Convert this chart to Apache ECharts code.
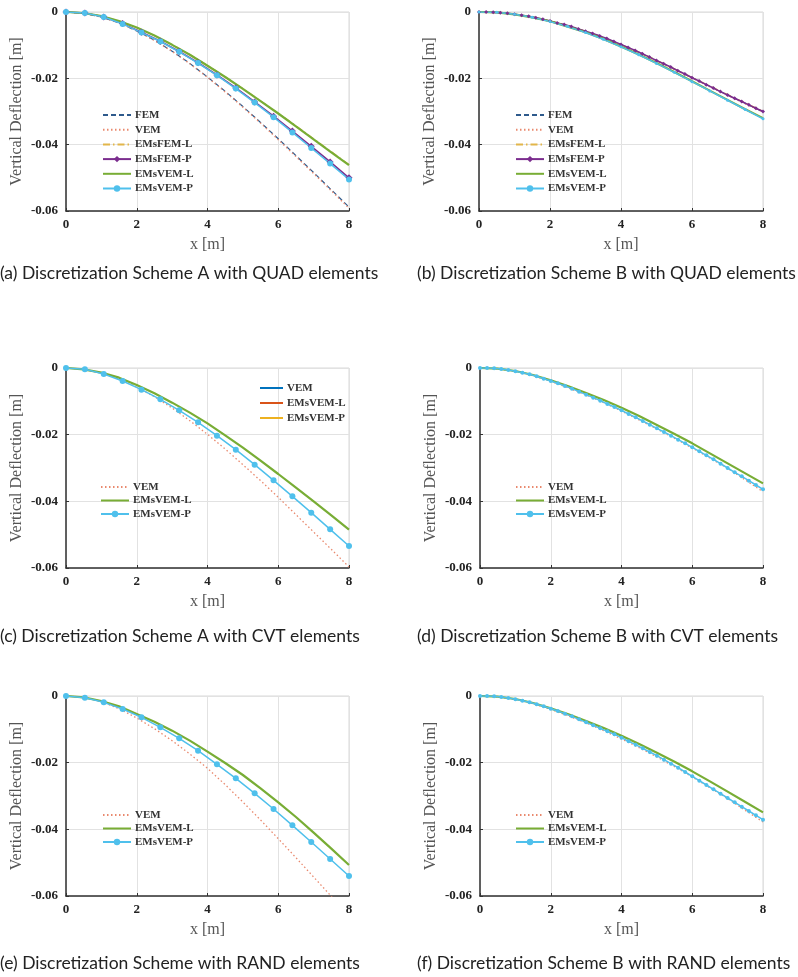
<!DOCTYPE html>
<html><head><meta charset="utf-8">
<script src="https://cdn.jsdelivr.net/npm/echarts@6/dist/echarts.min.js"></script>
<style>html,body{margin:0;padding:0;background:#fff}#c{width:798px;height:977px}</style>
</head><body><div id="c"></div>
<script>
// sample positions along the beam (m)
const xLine = [0,0.5,1,1.5,2,2.5,3,3.5,4,4.5,5,5.5,6,6.5,7,7.5,8];
const xMark = [0,0.533,1.067,1.6,2.133,2.667,3.2,3.733,4.267,4.8,5.333,5.867,6.4,6.933,7.467,8];
const xDense = [0,0.2,0.4,0.6,0.8,1,1.2,1.4,1.6,1.8,2,2.2,2.4,2.6,2.8,3,3.2,3.4,3.6,3.8,4,4.2,4.4,4.6,4.8,5,5.2,5.4,5.6,5.8,6,6.2,6.4,6.6,6.8,7,7.2,7.4,7.6,7.8,8];
const xTicks = [0,2,4,6,8];
const yTicks = [0,-0.02,-0.04,-0.06];

const captions = [
  '(a) Discretization Scheme A with QUAD elements',
  '(b) Discretization Scheme B with QUAD elements',
  '(c) Discretization Scheme A with CVT elements',
  '(d) Discretization Scheme B with CVT elements',
  '(e) Discretization Scheme with RAND elements',
  '(f) Discretization Scheme B with RAND elements'
];
const legendAll = ['FEM','VEM','EMsFEM-L','EMsFEM-P','EMsVEM-L','EMsVEM-P'];
const legendV = ['VEM','EMsVEM-L','EMsVEM-P'];
const legendGhost = ['VEM ','EMsVEM-L ','EMsVEM-P '];

// (a) Scheme A, QUAD
const a_FEM = [0,-0.0004,-0.0015,-0.0033,-0.0057,-0.0085,-0.0118,-0.0155,-0.0196,-0.0239,-0.0285,-0.0333,-0.0382,-0.0433,-0.0484,-0.0536,-0.0588];
const a_VEM = [0,-0.0004,-0.0015,-0.0033,-0.0057,-0.0086,-0.0119,-0.0156,-0.0197,-0.0241,-0.0287,-0.0335,-0.0385,-0.0436,-0.0487,-0.0539,-0.0592];
const a_EMsFEM_L = [0,-0.0003,-0.0012,-0.0027,-0.0047,-0.0071,-0.0098,-0.0128,-0.0161,-0.0195,-0.0231,-0.0268,-0.0305,-0.0343,-0.0382,-0.0421,-0.0460];
const a_EMsFEM_P = [0,-0.0003,-0.0015,-0.0035,-0.0061,-0.0088,-0.0119,-0.0153,-0.0190,-0.0229,-0.0271,-0.0314,-0.0359,-0.0405,-0.0452,-0.0500];
const a_EMsVEM_L = [0,-0.0003,-0.0012,-0.0027,-0.0047,-0.0071,-0.0099,-0.0129,-0.0162,-0.0196,-0.0232,-0.0269,-0.0306,-0.0345,-0.0384,-0.0423,-0.0462];
const a_EMsVEM_P = [0,-0.0003,-0.0015,-0.0036,-0.0062,-0.0089,-0.0120,-0.0154,-0.0191,-0.0231,-0.0273,-0.0317,-0.0363,-0.0410,-0.0457,-0.0505];

// (b) Scheme B, QUAD
const b_FEM = [0,-0.0001,-0.0007,-0.0016,-0.0028,-0.0042,-0.0058,-0.0077,-0.0098,-0.0121,-0.0146,-0.0172,-0.0198,-0.0224,-0.0250,-0.0275,-0.0301];
const b_VEM = [0,-0.0001,-0.0007,-0.0016,-0.0028,-0.0042,-0.0059,-0.0078,-0.0099,-0.0122,-0.0147,-0.0173,-0.0199,-0.0225,-0.0251,-0.0277,-0.0302];
const b_EMsFEM_L = [0,-0.0001,-0.0007,-0.0016,-0.0027,-0.0041,-0.0058,-0.0077,-0.0098,-0.0120,-0.0145,-0.0171,-0.0197,-0.0223,-0.0249,-0.0274,-0.0299];
const b_EMsFEM_P = [0,0,-0.0001,-0.0002,-0.0004,-0.0007,-0.0010,-0.0013,-0.0017,-0.0022,-0.0027,-0.0033,-0.0038,-0.0044,-0.0051,-0.0058,-0.0065,-0.0072,-0.0080,-0.0089,-0.0098,-0.0107,-0.0116,-0.0126,-0.0136,-0.0146,-0.0156,-0.0166,-0.0177,-0.0187,-0.0198,-0.0208,-0.0219,-0.0229,-0.0240,-0.0250,-0.0260,-0.0270,-0.0280,-0.0290,-0.0300];
const b_EMsVEM_L = [0,-0.0001,-0.0007,-0.0016,-0.0028,-0.0044,-0.0061,-0.0081,-0.0104,-0.0128,-0.0154,-0.0181,-0.0209,-0.0237,-0.0265,-0.0293,-0.0320];
const b_EMsVEM_P = [0,-0.0001,-0.0007,-0.0016,-0.0029,-0.0044,-0.0062,-0.0082,-0.0105,-0.0129,-0.0155,-0.0182,-0.0210,-0.0238,-0.0266,-0.0294,-0.0322];

// (c) Scheme A, CVT
const c_VEM = [0,-0.0004,-0.0015,-0.0033,-0.0057,-0.0086,-0.0120,-0.0158,-0.0199,-0.0243,-0.0290,-0.0338,-0.0388,-0.0440,-0.0492,-0.0544,-0.0597];
const c_EMsVEM_L = [0,-0.0004,-0.0014,-0.0029,-0.0051,-0.0076,-0.0104,-0.0134,-0.0166,-0.0202,-0.0239,-0.0278,-0.0318,-0.0359,-0.0400,-0.0442,-0.0485];
const c_EMsVEM_P = [0,-0.0004,-0.0018,-0.0039,-0.0065,-0.0094,-0.0127,-0.0163,-0.0203,-0.0245,-0.0290,-0.0337,-0.0385,-0.0434,-0.0484,-0.0534];

// (d) Scheme B, CVT
const d_VEM = [0,-0.0002,-0.0010,-0.0023,-0.0040,-0.0060,-0.0081,-0.0104,-0.0129,-0.0156,-0.0183,-0.0211,-0.0240,-0.0270,-0.0301,-0.0336,-0.0371];
const d_EMsVEM_L = [0,-0.0002,-0.0009,-0.0021,-0.0037,-0.0055,-0.0075,-0.0096,-0.0119,-0.0144,-0.0171,-0.0198,-0.0226,-0.0256,-0.0286,-0.0316,-0.0346];
const d_EMsVEM_P = [0,0,-0.0001,-0.0003,-0.0006,-0.0010,-0.0014,-0.0019,-0.0025,-0.0032,-0.0039,-0.0046,-0.0054,-0.0062,-0.0071,-0.0080,-0.0089,-0.0098,-0.0108,-0.0117,-0.0127,-0.0138,-0.0148,-0.0159,-0.0170,-0.0181,-0.0192,-0.0203,-0.0215,-0.0226,-0.0238,-0.0250,-0.0262,-0.0274,-0.0287,-0.0300,-0.0313,-0.0325,-0.0338,-0.0351,-0.0364];

// (e) RAND
const e_VEM = [0,-0.0004,-0.0017,-0.0038,-0.0066,-0.0098,-0.0134,-0.0174,-0.0217,-0.0266,-0.0318,-0.0372,-0.0428,-0.0485,-0.0543,-0.0601,-0.0660];
const e_EMsVEM_L = [0,-0.0004,-0.0015,-0.0031,-0.0054,-0.0077,-0.0104,-0.0134,-0.0167,-0.0201,-0.0237,-0.0277,-0.0319,-0.0363,-0.0410,-0.0458,-0.0507];
const e_EMsVEM_P = [0,-0.0005,-0.0019,-0.0039,-0.0064,-0.0094,-0.0127,-0.0164,-0.0205,-0.0247,-0.0292,-0.0339,-0.0388,-0.0438,-0.0489,-0.0540];

// (f) Scheme B, RAND
const f_VEM = [0,-0.0002,-0.0010,-0.0023,-0.0040,-0.0060,-0.0081,-0.0104,-0.0129,-0.0155,-0.0183,-0.0212,-0.0243,-0.0275,-0.0308,-0.0343,-0.0378];
const f_EMsVEM_L = [0,-0.0002,-0.0009,-0.0021,-0.0037,-0.0055,-0.0075,-0.0096,-0.0119,-0.0144,-0.0170,-0.0197,-0.0226,-0.0256,-0.0287,-0.0318,-0.0349];
const f_EMsVEM_P = [0,0,-0.0001,-0.0003,-0.0006,-0.0010,-0.0014,-0.0019,-0.0025,-0.0031,-0.0038,-0.0045,-0.0053,-0.0061,-0.0070,-0.0079,-0.0088,-0.0097,-0.0106,-0.0115,-0.0125,-0.0136,-0.0146,-0.0157,-0.0168,-0.0179,-0.0191,-0.0203,-0.0215,-0.0228,-0.0241,-0.0254,-0.0267,-0.0280,-0.0293,-0.0306,-0.0319,-0.0332,-0.0345,-0.0358,-0.0371];

// ---------- styling ----------
const ST = {
  'FEM':      {color:'#2e5a8c', type:[5,3], width:1.2, symbol:'none', size:0},
  'VEM':      {color:'#e9896e', type:[1.5,2.5], width:1.3, symbol:'none', size:0},
  'EMsFEM-L': {color:'#e2b64a', type:[7,3,1.5,3], width:1.2, symbol:'none', size:0},
  'EMsFEM-P': {color:'#7b2d8e', type:'solid', width:1.6, symbol:'diamond', size:7},
  'EMsVEM-L': {color:'#78ad35', type:'solid', width:2.2, symbol:'none', size:0},
  'EMsVEM-P': {color:'#4fc0ec', type:'solid', width:1.5, symbol:'circle', size:6},
  'VEM ':     {color:'#0072bd', type:'solid', width:1.5, symbol:'none', size:0},
  'EMsVEM-L ':{color:'#d95319', type:'solid', width:1.5, symbol:'none', size:0},
  'EMsVEM-P ':{color:'#edb120', type:'solid', width:1.5, symbol:'none', size:0}
};
const serif = '"Liberation Serif","DejaVu Serif",serif';

const grids = [
  {left:66, top:12, width:283, height:199},
  {left:479, top:12, width:284, height:199},
  {left:66, top:368, width:283, height:200},
  {left:480, top:368, width:283, height:200},
  {left:66, top:696, width:283, height:200},
  {left:480, top:696, width:283, height:200}
];

const series = [];
function mk(name, g, xs, ys, sizeOverride) {
  const s = ST[name];
  const sz = sizeOverride || s.size;
  series.push({
    name: name, type:'line', xAxisIndex:g, yAxisIndex:g,
    data: xs.map((x,i)=>[x, ys[i]]),
    showSymbol: s.symbol !== 'none', symbol: s.symbol,
    symbolSize: sz || 4,
    lineStyle:{color:s.color, type:s.type, width:s.width},
    itemStyle:{color:s.color},
    clip:true, silent:true, z:3
  });
}
function ghost(name, g) {
  const s = ST[name];
  series.push({name:name, type:'line', xAxisIndex:g, yAxisIndex:g, data:[], showSymbol:false, symbol:'none',
    lineStyle:{color:s.color, width:s.width}, itemStyle:{color:s.color}});
}

mk('FEM',0,xLine,a_FEM); mk('VEM',0,xLine,a_VEM); mk('EMsFEM-L',0,xLine,a_EMsFEM_L);
mk('EMsFEM-P',0,xMark,a_EMsFEM_P); mk('EMsVEM-L',0,xLine,a_EMsVEM_L); mk('EMsVEM-P',0,xMark,a_EMsVEM_P);

mk('FEM',1,xLine,b_FEM); mk('VEM',1,xLine,b_VEM); mk('EMsFEM-L',1,xLine,b_EMsFEM_L);
mk('EMsFEM-P',1,xDense,b_EMsFEM_P,4); mk('EMsVEM-L',1,xLine,b_EMsVEM_L); mk('EMsVEM-P',1,xLine,b_EMsVEM_P,3);

ghost('VEM ',2); ghost('EMsVEM-L ',2); ghost('EMsVEM-P ',2);
mk('VEM',2,xLine,c_VEM); mk('EMsVEM-L',2,xLine,c_EMsVEM_L); mk('EMsVEM-P',2,xMark,c_EMsVEM_P);

mk('VEM',3,xLine,d_VEM); mk('EMsVEM-L',3,xLine,d_EMsVEM_L); mk('EMsVEM-P',3,xDense,d_EMsVEM_P,4);
mk('VEM',4,xLine,e_VEM); mk('EMsVEM-L',4,xLine,e_EMsVEM_L); mk('EMsVEM-P',4,xMark,e_EMsVEM_P);
mk('VEM',5,xLine,f_VEM); mk('EMsVEM-L',5,xLine,f_EMsVEM_L); mk('EMsVEM-P',5,xDense,f_EMsVEM_P,4);

const xAxes = grids.map((g,i)=>({
  gridIndex:i, type:'value', min:xTicks[0], max:xTicks[xTicks.length-1], interval:xTicks[1]-xTicks[0],
  name:'x [m]', nameLocation:'middle', nameGap:26,
  nameTextStyle:{fontFamily:serif, fontSize:16, color:'#555'},
  axisLine:{onZero:false, lineStyle:{color:'#333', width:1.5}},
  axisTick:{inside:true, length:3, lineStyle:{color:'#333'}},
  axisLabel:{fontFamily:serif, fontWeight:'bold', fontSize:13, color:'#222', margin:7},
  splitLine:{show:true, lineStyle:{color:'#e2e2e2', width:1}}
}));
const yAxes = grids.map((g,i)=>({
  gridIndex:i, type:'value', min:yTicks[3], max:yTicks[0], interval:0.02,
  name:'Vertical Deflection [m]', nameLocation:'middle', nameGap:41, nameRotate:90,
  nameTextStyle:{fontFamily:serif, fontSize:16, color:'#555'},
  axisLine:{onZero:false, lineStyle:{color:'#333', width:1.5}},
  axisTick:{inside:true, length:3, lineStyle:{color:'#333'}},
  axisLabel:{fontFamily:serif, fontWeight:'bold', fontSize:13, color:'#222', margin:8,
    formatter:v=>Math.abs(v)<1e-9?'0':v.toFixed(2)},
  splitLine:{show:true, lineStyle:{color:'#e2e2e2', width:1}}
}));

function leg(names, left, top, gap, iw) {
  const data = names.map(n => ST[n].symbol === 'none' ? {name:n, itemStyle:{opacity:0}} : {name:n});
  return {data:data, orient:'vertical', left:left, top:top, itemWidth:iw||28, itemHeight:8, itemGap:gap,
    selectedMode:false, backgroundColor:'transparent',
    textStyle:{fontFamily:serif, fontWeight:'bold', fontSize:11, color:'#333', lineHeight:12, padding:[0,0,0,-1]}};
}
const legends = [
  leg(legendAll, 97, 104, 2.7),
  leg(legendAll, 510, 104, 2.7),
  leg(legendV, 95, 476, 1.5),
  leg(legendGhost, 254, 377, 3, 23),
  leg(legendV, 510, 476, 1.5),
  leg(legendV, 97, 804, 1.5),
  leg(legendV, 510, 804, 1.5)
];

const capPos = [[0,264],[417,264],[0,627],[417,627],[0,954],[417,954]];
const titles = captions.map((t,i)=>({text:t, left:capPos[i][0], top:capPos[i][1], padding:0,
  textStyle:{fontFamily:'Lato, "Open Sans", sans-serif', fontWeight:'normal', fontSize:17.5, color:'#222'}}));

const chart = echarts.init(document.getElementById('c'), null, {renderer:'canvas'});
chart.setOption({
  animation:false, backgroundColor:'#fff',
  title:titles,
  grid:grids.map(g=>Object.assign({show:true, borderColor:'#d8d8d8', borderWidth:1, containLabel:false}, g)),
  xAxis:xAxes, yAxis:yAxes, legend:legends, series:series
});
</script></body></html>
